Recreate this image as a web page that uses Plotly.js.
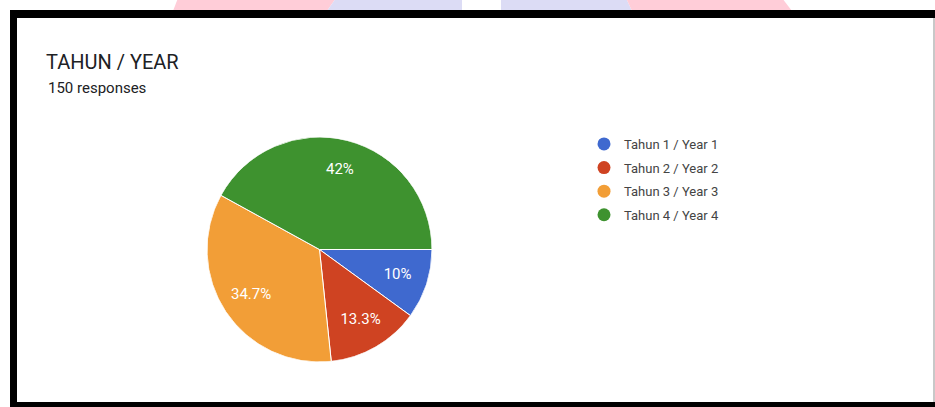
<!DOCTYPE html>
<html>
<head>
<meta charset="utf-8">
<script src="https://cdn.plot.ly/plotly-3.0.1.min.js"></script>
<style>
  html, body { margin: 0; padding: 0; background: #ffffff; }
  #chart { width: 935px; height: 407px; }
</style>
</head>
<body>
<div id="chart"></div>
<script>
// ---- data ----
const categories = ["Tahun 1 / Year 1", "Tahun 2 / Year 2", "Tahun 3 / Year 3", "Tahun 4 / Year 4"];
const responses = [15, 20, 52, 63];
const colors = ["#3f69cf", "#cf4322", "#f29e37", "#3e922f"];
const titleText = "TAHUN / YEAR";
const subtitleText = "150 responses";

const W = 935, H = 407;
const px = x => x / W;
const py = y => 1 - y / H;

// slice geometry in data units (degrees), derived from the values
const total = responses.reduce((a, b) => a + b, 0);
const widths = responses.map(v => v / total * 360);
const mids = [];
let acc = 0;
widths.forEach(w => { mids.push(acc + w / 2); acc += w; });
const pctText = responses.map(v => parseFloat((v / total * 100).toPrecision(3)) + "%");

const pieDomain = { x: [px(207), px(432)], y: [py(362), py(137)] };

const slices = {
  type: "barpolar",
  r: responses.map(() => 1),
  theta: mids,
  width: widths,
  marker: { color: colors, line: { color: "#ffffff", width: 1 } },
  showlegend: false,
  hoverinfo: "skip"
};

const labels = {
  type: "scatterpolar",
  mode: "text",
  r: responses.map(() => 0.73),
  theta: mids,
  text: pctText,
  textposition: "middle center",
  textfont: { family: "Roboto, Arial, sans-serif", size: 15, color: "#ffffff" },
  showlegend: false,
  hoverinfo: "skip"
};

// legend entries (circle markers) via empty scatter traces
const legendTraces = categories.map((c, i) => ({
  type: "scatter",
  mode: "markers",
  x: [null], y: [null],
  name: c,
  legendgroup: "g" + i,
  marker: { color: colors[i], size: 13, symbol: "circle" },
  showlegend: true,
  hoverinfo: "skip"
}));

const shapes = [
  // watermark pieces above frame
  { type: "path", xref: "paper", yref: "paper", path: `M ${px(178)} ${py(-2)} L ${px(336)} ${py(-2)} L ${px(327)} ${py(11)} L ${px(173)} ${py(11)} Z`, fillcolor: "#ffcdd8", line: { width: 0 }, layer: "below" },
  { type: "path", xref: "paper", yref: "paper", path: `M ${px(336)} ${py(-2)} L ${px(462)} ${py(-2)} L ${px(462)} ${py(11)} L ${px(327)} ${py(11)} Z`, fillcolor: "#dcdcf5", line: { width: 0 }, layer: "below" },
  { type: "path", xref: "paper", yref: "paper", path: `M ${px(501)} ${py(-2)} L ${px(626)} ${py(-2)} L ${px(632)} ${py(11)} L ${px(501)} ${py(11)} Z`, fillcolor: "#dcdcf5", line: { width: 0 }, layer: "below" },
  { type: "path", xref: "paper", yref: "paper", path: `M ${px(626)} ${py(-2)} L ${px(782)} ${py(-2)} L ${px(792)} ${py(11)} L ${px(632)} ${py(11)} Z`, fillcolor: "#ffcdd8", line: { width: 0 }, layer: "below" },
  // black frame
  { type: "rect", xref: "paper", yref: "paper", x0: px(10), x1: px(936), y0: py(408), y1: py(10), fillcolor: "#000000", line: { width: 0 }, layer: "below" },
  // white card
  { type: "rect", xref: "paper", yref: "paper", x0: px(17), x1: px(933), y0: py(402), y1: py(18), fillcolor: "#ffffff", line: { width: 0 }, layer: "below" },
  // thin grey right edge
  { type: "rect", xref: "paper", yref: "paper", x0: px(933), x1: px(935), y0: py(402), y1: py(18), fillcolor: "#c8c8c8", line: { width: 0 }, layer: "below" }
];

const layout = {
  width: W, height: H,
  margin: { l: 0, r: 0, t: 0, b: 0 },
  paper_bgcolor: "#ffffff",
  plot_bgcolor: "rgba(0,0,0,0)",
  xaxis: { visible: false, range: [0, 1] },
  yaxis: { visible: false, range: [0, 1] },
  polar: {
    domain: pieDomain,
    bgcolor: "rgba(0,0,0,0)",
    hole: 0,
    angularaxis: { rotation: 0, direction: "clockwise", visible: false, showgrid: false, showline: false, ticks: "" },
    radialaxis: { range: [0, 1], visible: false, showgrid: false, showline: false, ticks: "" },
    bargap: 0
  },
  title: {
    text: titleText,
    xref: "paper", yref: "paper",
    x: px(46), xanchor: "left",
    y: py(62), yanchor: "middle",
    font: { family: "Roboto, Arial, sans-serif", size: 20, color: "#202124" }
  },
  annotations: [{
    text: subtitleText,
    xref: "paper", yref: "paper",
    x: px(46), xanchor: "left",
    y: py(88), yanchor: "middle",
    showarrow: false,
    font: { family: "Roboto, Arial, sans-serif", size: 15, color: "#202124" }
  }],
  legend: {
    x: px(584), xanchor: "left",
    y: py(129), yanchor: "top",
    tracegroupgap: 3.7,
    font: { family: "Roboto, Arial, sans-serif", size: 13, color: "#444444" },
    bgcolor: "rgba(0,0,0,0)",
    itemclick: false, itemdoubleclick: false
  },
  shapes: shapes,
  showlegend: true
};

Plotly.newPlot("chart", [slices, labels].concat(legendTraces), layout, { displayModeBar: false, staticPlot: true });
</script>
</body>
</html>
